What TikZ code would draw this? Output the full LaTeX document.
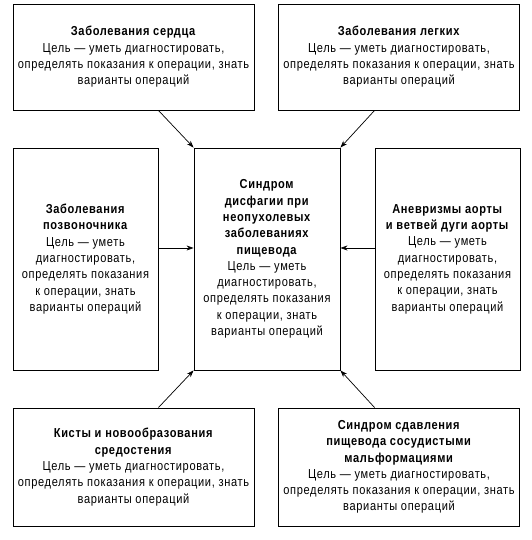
\documentclass[tikz,border=0pt]{standalone}
\usepackage{fontspec}
\setmainfont{Liberation Sans}[FakeStretch=0.85,LetterSpace=5]
\usetikzlibrary{arrows.meta}
\begin{document}
\begin{tikzpicture}[x=1pt,y=1pt,
    box/.style={draw=black,line width=0.9pt,inner sep=0pt,align=center,
      font=\fontsize{13}{16.3}\selectfont},
    wide/.style={box,minimum width=241pt},
    tall/.style={box,minimum width=145pt,minimum height=222pt},
    link/.style={black,line width=0.7pt,-{Stealth[length=7pt,width=5pt]}}]
    \useasboundingbox (0,0) rectangle (531,540);
    % outer boxes
    \node [wide,minimum height=106pt] (heart) at (133.5,483) {\textbf{Заболевания сердца}\\Цель — уметь диагностировать,\\определять показания к операции, знать\\варианты операций};
    \node [wide,minimum height=106pt] (lungs) at (399,483) {\textbf{Заболевания легких}\\Цель — уметь диагностировать,\\определять показания к операции, знать\\варианты операций};
    \node [tall] (spine) at (85.5,281) {\textbf{Заболевания}\\\textbf{позвоночника}\\Цель — уметь\\диагностировать,\\определять показания\\к операции, знать\\варианты операций};
    \node [tall] (aorta) at (447.5,281) {\textbf{Аневризмы аорты}\\\textbf{и ветвей дуги аорты}\\Цель — уметь\\диагностировать,\\определять показания\\к операции, знать\\варианты операций};
    \node [wide,minimum height=118pt] (cysts) at (133.5,73) {\textbf{Кисты и новообразования}\\\textbf{средостения}\\Цель — уметь диагностировать,\\определять показания к операции, знать\\варианты операций};
    \node [wide,minimum height=118pt] (vessels) at (399,73) {\textbf{Синдром сдавления}\\\textbf{пищевода сосудистыми}\\\textbf{мальформациями}\\Цель — уметь диагностировать,\\определять показания к операции, знать\\варианты операций};
    % centre box
    \node [tall,minimum width=146pt] (dysph) at (267,281) {\textbf{Синдром}\\\textbf{дисфагии при}\\\textbf{неопухолевых}\\\textbf{заболеваниях}\\\textbf{пищевода}\\Цель — уметь\\диагностировать,\\определять показания\\к операции, знать\\варианты операций};
    % arrows
    \draw [link] (heart.south -| spine.east) -- (dysph.north west);
    \draw [link] (lungs.south -| aorta.west) -- (dysph.north east);
    \draw [link] ([yshift=11pt]spine.east) -- ([yshift=11pt]dysph.west);
    \draw [link] ([yshift=11pt]aorta.west) -- ([yshift=11pt]dysph.east);
    \draw [link] (cysts.north -| spine.east) -- (dysph.south west);
    \draw [link] (vessels.north -| aorta.west) -- (dysph.south east);
\end{tikzpicture}
\end{document}
